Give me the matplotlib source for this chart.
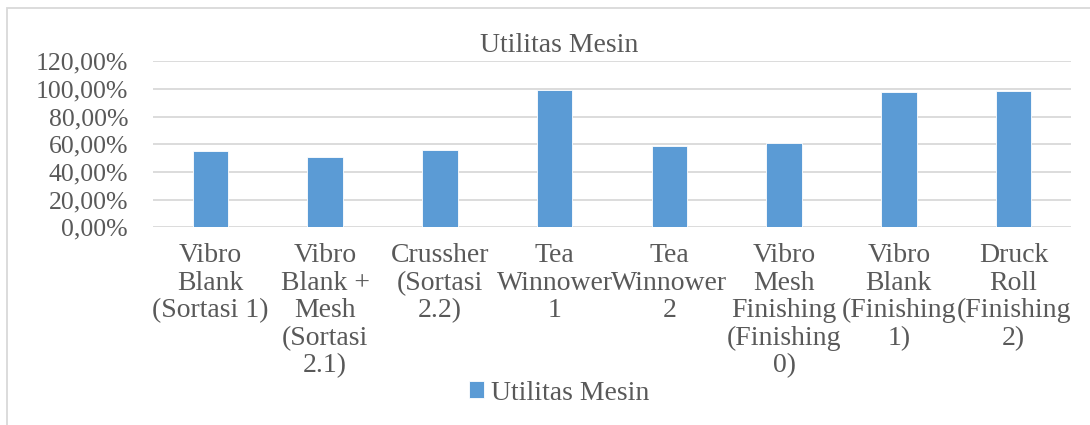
import matplotlib
matplotlib.use("Agg")
import matplotlib.pyplot as plt
from matplotlib.patches import Rectangle
from matplotlib.ticker import FuncFormatter

categories = [
    "Vibro\nBlank\n(Sortasi 1)",
    "Vibro\nBlank +\nMesh\n(Sortasi\n2.1)",
    "Crussher\n(Sortasi\n2.2)",
    "Tea\nWinnower\n1",
    "Tea\nWinnower\n2",
    "Vibro\nMesh\nFinishing\n(Finishing\n0)",
    "Vibro\nBlank\n(Finishing\n1)",
    "Druck\nRoll\n(Finishing\n2)",
]
values = [55.2, 51.0, 55.6, 99.5, 58.6, 61.2, 98.0, 98.8]
series_name = "Utilitas Mesin"
title = "Utilitas Mesin"
yticks = [0, 20, 40, 60, 80, 100, 120]

plt.rcParams['font.family'] = ['Liberation Serif', 'DejaVu Serif']
TXT = '#595959'
BAR = '#5B9BD5'
GRID = '#D9D9D9'

fig = plt.figure(figsize=(10.9, 4.25), dpi=100)
W, H = 1090, 425
ax = fig.add_axes([153 / W, 1 - 227.3 / H, (1071 - 153) / W, (227.3 - 61.3) / H])

x = list(range(len(categories)))
bars = ax.bar(x, values, width=0.31, color=BAR, edgecolor='white', linewidth=0.6,
              label=series_name, zorder=3)
ax.set_xlim(-0.5, len(categories) - 0.5)
ax.set_ylim(0, 120)
ax.set_yticks(yticks)
ax.yaxis.set_major_formatter(FuncFormatter(lambda v, p: f"{v:.2f}%".replace('.', ',')))
ax.set_xticks(x)
ax.set_xticklabels(categories, linespacing=1.13)
ax.tick_params(axis='both', length=0, colors=TXT)
ax.tick_params(axis='x', pad=11.5, labelsize=20)
ax.tick_params(axis='y', pad=18, labelsize=18.5)
for lbl in ax.get_yticklabels():
    lbl.set_color(TXT)
for lbl in ax.get_xticklabels():
    lbl.set_color(TXT)
ax.grid(axis='y', color=GRID, linewidth=1.3, zorder=0)
for s in ax.spines.values():
    s.set_visible(False)

fig.text(559 / W, 1 - 45 / H, title, ha='center', va='center', fontsize=20, color=TXT)

handles, labels = ax.get_legend_handles_labels()
leg = fig.legend(handles, labels, loc='center', bbox_to_anchor=(559 / W, 1 - 393 / H),
                 frameon=False, fontsize=20, handlelength=0.55, handleheight=0.55,
                 handletextpad=0.25, labelcolor=TXT)

fig.patches.append(Rectangle((7 / W, -0.1), 1.2, 1 - 8 / H + 0.1, transform=fig.transFigure,
                             fill=False, edgecolor='#D9D9D9', linewidth=1.3, zorder=0))

fig.savefig('out.png', dpi=100, facecolor='white')
